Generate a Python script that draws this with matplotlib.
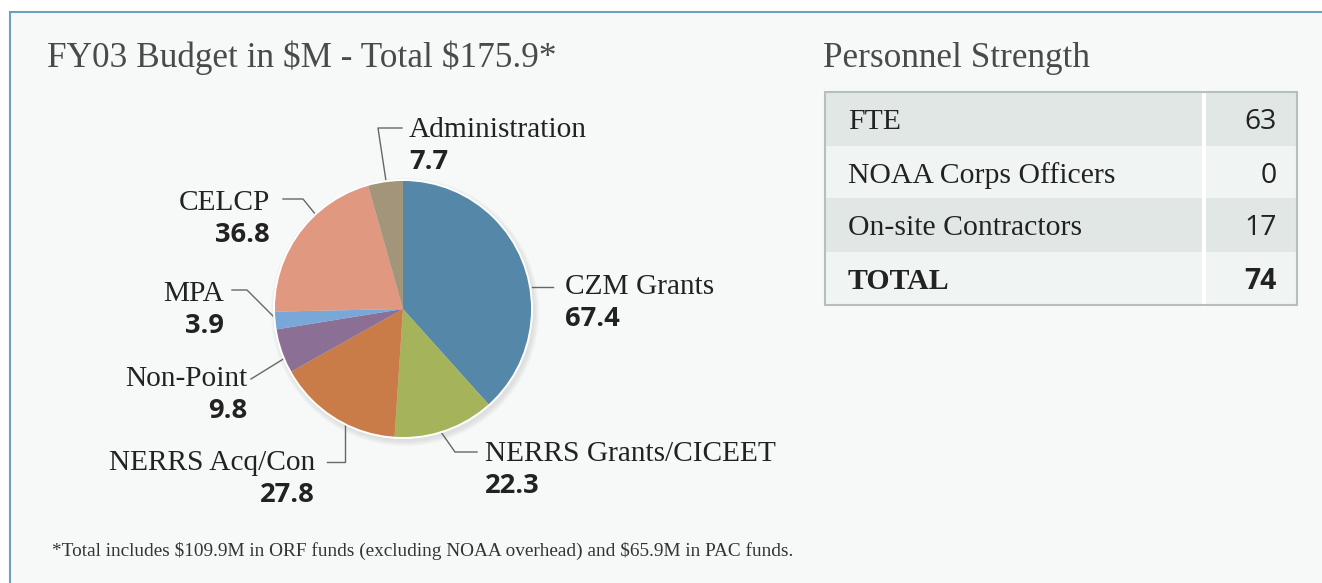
import matplotlib
matplotlib.use("Agg")
import matplotlib.pyplot as plt
from matplotlib.patches import Rectangle, Circle
import numpy as np

plt.rcParams["text.parse_math"] = False

# ---------------- data ----------------
pie_labels = ["CZM Grants", "NERRS Grants/CICEET", "NERRS Acq/Con", "Non-Point",
              "MPA", "CELCP", "Administration"]
pie_values = [67.4, 22.3, 27.8, 9.8, 3.9, 36.8, 7.7]
pie_colors = ["#5487a8", "#a5b35b", "#c97c47", "#8c6f95", "#79a8d8", "#e09880", "#a39579"]

table_labels = ["FTE", "NOAA Corps Officers", "On-site Contractors", "TOTAL"]
table_values = [63, 0, 17, 74]

title_left = "FY03 Budget in $M - Total $175.9*"
title_right = "Personnel Strength"
footnote = "*Total includes $109.9M in ORF funds (excluding NOAA overhead) and $65.9M in PAC funds."

# ---------------- figure ----------------
W, H = 1322, 583
fig = plt.figure(figsize=(W / 100, H / 100), dpi=100)
fig.patch.set_facecolor("white")
ax = fig.add_axes([0, 0, 1, 1], zorder=0)
ax.set_xlim(0, W)
ax.set_ylim(H, 0)
ax.axis("off")
renderer = fig.canvas.get_renderer()

SERIF = ["Liberation Serif", "DejaVu Serif"]
SANS = ["Open Sans", "DejaVu Sans"]


def fit_size(s, width, **kw):
    t = ax.text(0, 0, s, fontsize=10, **kw)
    w = t.get_window_extent(renderer).width
    t.remove()
    return 10 * width / w


# panel
ax.add_patch(Rectangle((10, 12), W + 20, H + 20, facecolor="#f7f9f9",
                       edgecolor="#6fa0bb", lw=1.5, zorder=0))

# titles
sz = fit_size(title_left, 510, family=SERIF)
ax.text(47, 67, title_left, fontsize=sz, family=SERIF, color="#4a4a4a",
        ha="left", va="baseline")
ax.text(823, 67, title_right, fontsize=sz, family=SERIF, color="#4a4a4a",
        ha="left", va="baseline")

# footnote
fsz = fit_size(footnote, 745, family=SERIF)
ax.text(52, 556, footnote, fontsize=fsz, family=SERIF, color="#333333",
        ha="left", va="baseline")

# ---------------- pie ----------------
cx, cy, r = 403, 309, 129
# soft shadow
for i, a in enumerate([0.05, 0.05, 0.05, 0.04]):
    ax.add_patch(Circle((cx + 2, cy + 3), r + 5 - i * 1.5, facecolor="#7a7a7a",
                        edgecolor="none", alpha=a, zorder=1))
pax = fig.add_axes([(cx - r * 1.02) / W, (H - cy - r * 1.02) / H,
                    2 * r * 1.02 / W, 2 * r * 1.02 / H], zorder=1)
pax.set_facecolor("none")
pax.pie(pie_values, colors=pie_colors, startangle=90, counterclock=False,
        radius=1.0, wedgeprops=dict(edgecolor="none", linewidth=0))
pax.add_patch(Circle((0, 0), 1.0, facecolor="none", edgecolor="white", lw=1.4))
pax.set_xlim(-1.02, 1.02)
pax.set_ylim(-1.02, 1.02)
pax.set_aspect("equal")
pax.axis("off")

# label layout: (x, baseline, ha) and leader polyline
layout = {
    "CZM Grants": (565, 294, "left", [(553, 287), (532, 287)]),
    "NERRS Grants/CICEET": (485, 461, "left", [(477, 452), (455, 452), (441, 432)]),
    "NERRS Acq/Con": (315, 470, "right", [(327, 462), (345, 462), (345, 425)]),
    "Non-Point": (247, 386, "right", [(251, 379), (285, 358)]),
    "MPA": (224, 301, "right", [(232, 290), (247, 290), (274, 317)]),
    "CELCP": (270, 210, "right", [(283, 199), (303, 199), (316, 215)]),
    "Administration": (409, 137, "left", [(402, 128), (378, 128), (386, 181)]),
}

lsz = np.median([fit_size(s, w, family=SERIF) for s, w in
                 [("CZM Grants", 148), ("NERRS Grants/CICEET", 292),
                  ("NERRS Acq/Con", 208), ("Administration", 185)]])
nsz = fit_size("67.4", 55, family=SANS, fontweight="bold")

for lab, val in zip(pie_labels, pie_values):
    x, yb, ha, pts = layout[lab]
    ax.text(x, yb, lab, fontsize=lsz, family=SERIF, color="#222222",
            ha=ha, va="baseline", zorder=3)
    ax.text(x, yb + 32, f"{val:.1f}", fontsize=nsz, family=SANS, fontweight="bold",
            color="#222222", ha=ha, va="baseline", zorder=3)
    xs, ys = zip(*pts)
    ax.plot(xs, ys, color="#666666", lw=1.0, zorder=2)

# ---------------- table ----------------
tx0, tx1, tdiv = 825, 1297, 1204
row_edges = [92, 146, 198, 252, 305]
row_colors = ["#e1e7e4", "#f0f4f3", "#e1e7e4", "#f0f4f3"]
tsz = fit_size("NOAA Corps Officers", 267, family=SERIF)
vsz = tsz * 0.95
for i, (lab, val) in enumerate(zip(table_labels, table_values)):
    y0, y1 = row_edges[i], row_edges[i + 1]
    ax.add_patch(Rectangle((tx0, y0), tx1 - tx0, y1 - y0, facecolor=row_colors[i],
                           edgecolor="none", zorder=1))
    bold = lab == "TOTAL"
    ax.text(848, y0 + 37, lab, fontsize=tsz, family=SERIF, color="#222222",
            fontweight="bold" if bold else "normal", ha="left", va="baseline", zorder=3)
    ax.text(1277, y0 + 37, str(val), fontsize=vsz, family=SANS, color="#222222",
            fontweight="bold" if bold else "normal", ha="right", va="baseline", zorder=3)
ax.plot([tdiv, tdiv], [row_edges[0], row_edges[-1]], color="white", lw=3, zorder=2)
ax.add_patch(Rectangle((tx0, row_edges[0]), tx1 - tx0, row_edges[-1] - row_edges[0],
                       facecolor="none", edgecolor="#b5bfbb", lw=1.5, zorder=2))

fig.savefig("out.png", dpi=100, facecolor="white")
